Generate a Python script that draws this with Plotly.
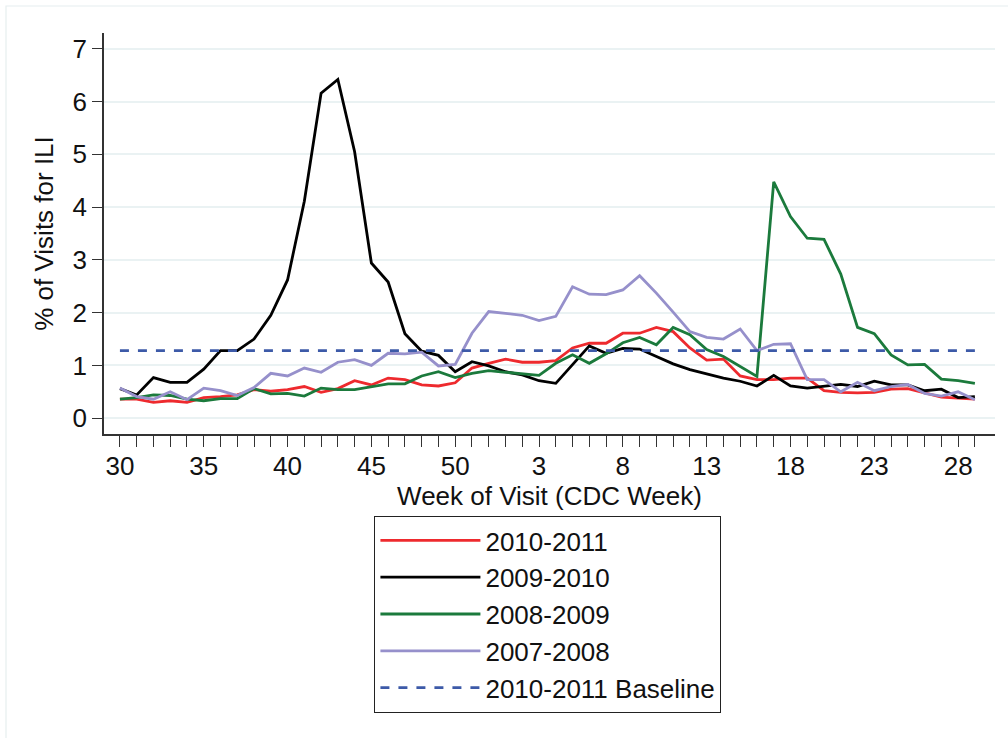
import plotly.graph_objects as go

weeks = list(range(30, 53)) + list(range(1, 30))  # CDC weeks 30..52, 1..29

s2010_2011 = [0.36, 0.36, 0.30, 0.33, 0.30, 0.39, 0.41, 0.44, 0.54, 0.51, 0.54, 0.60, 0.49, 0.56, 0.71, 0.63, 0.76, 0.73, 0.63,
              0.61, 0.67, 0.95, 1.04, 1.12, 1.06, 1.06, 1.09, 1.33, 1.42, 1.42, 1.61, 1.61, 1.72, 1.64, 1.33, 1.10,
              1.12, 0.80, 0.73, 0.73, 0.76, 0.76, 0.52, 0.49, 0.48, 0.49, 0.55, 0.56, 0.48, 0.40, 0.38, 0.36]
s2009_2010 = [0.56, 0.44, 0.77, 0.68, 0.68, 0.93, 1.28, 1.28, 1.50, 1.95, 2.62, 4.11, 6.16, 6.42, 5.05, 2.94, 2.58, 1.60, 1.27,
              1.19, 0.88, 1.07, 0.99, 0.88, 0.82, 0.71, 0.66, 1.01, 1.37, 1.23, 1.32, 1.31, 1.17, 1.03, 0.92, 0.84,
              0.76, 0.70, 0.61, 0.81, 0.61, 0.57, 0.61, 0.64, 0.60, 0.70, 0.63, 0.63, 0.52, 0.55, 0.39, 0.41]
s2008_2009 = [0.36, 0.39, 0.44, 0.43, 0.36, 0.33, 0.37, 0.37, 0.56, 0.46, 0.47, 0.42, 0.57, 0.54, 0.54, 0.59, 0.65, 0.65, 0.80,
              0.88, 0.77, 0.85, 0.90, 0.87, 0.84, 0.81, 1.04, 1.20, 1.04, 1.22, 1.43, 1.53, 1.39, 1.72, 1.58, 1.30,
              1.17, 0.98, 0.79, 4.48, 3.82, 3.41, 3.39, 2.73, 1.72, 1.60, 1.20, 1.01, 1.02, 0.74, 0.71, 0.66]
s2007_2008 = [0.57, 0.41, 0.36, 0.50, 0.35, 0.57, 0.52, 0.43, 0.58, 0.85, 0.80, 0.95, 0.87, 1.06, 1.11, 1.00, 1.23, 1.22, 1.25,
              0.99, 1.02, 1.61, 2.02, 1.99, 1.95, 1.85, 1.93, 2.49, 2.35, 2.34, 2.43, 2.70, 2.37, 2.01, 1.64, 1.53,
              1.50, 1.69, 1.28, 1.40, 1.41, 0.73, 0.73, 0.50, 0.68, 0.52, 0.60, 0.64, 0.47, 0.42, 0.50, 0.35]
baseline_2010_2011 = 1.28

y_ticks = [0, 1, 2, 3, 4, 5, 6, 7]

FONT = "Liberation Sans, Arial, sans-serif"
idx = list(range(len(weeks)))

series = [
    ("2010-2011", s2010_2011, "#ee2a2e"),
    ("2009-2010", s2009_2010, "#000000"),
    ("2008-2009", s2008_2009, "#1b7a3c"),
    ("2007-2008", s2007_2008, "#9690cb"),
]

fig = go.Figure()
for k, (name, vals, col) in enumerate(series):
    fig.add_trace(go.Scatter(x=idx, y=vals, mode="lines", name=name,
                             line=dict(color=col, width=2.8),
                             legendgroup=f"g{k}", legendrank=k + 1))
fig.add_trace(go.Scatter(x=idx, y=[baseline_2010_2011] * len(idx), mode="lines",
                         name="2010-2011 Baseline",
                         line=dict(color="#3d5aa8", width=2.6, dash="dash"),
                         legendgroup="g9", legendrank=5))

ticktext = [str(w) if i % 5 == 0 else "" for i, w in enumerate(weeks)]

fig.update_layout(
    width=1008, height=738,
    margin=dict(l=104, r=13, t=33, b=304),
    paper_bgcolor="white", plot_bgcolor="white",
    font=dict(family=FONT, size=26, color="#111111"),
    showlegend=True,
    legend=dict(
        x=0.498, xanchor="center", y=-0.204, yanchor="top",
        bgcolor="white", bordercolor="#222222", borderwidth=1.2,
        font=dict(size=26), traceorder="grouped", tracegroupgap=0,
        itemwidth=100,
    ),
    xaxis=dict(
        range=[-0.95, 52.2], tickmode="array", tickvals=idx, ticktext=ticktext,
        ticks="outside", ticklen=11, tickwidth=1.2, tickcolor="#333333",
        showline=True, linecolor="#333333", linewidth=1.5,
        showgrid=False, zeroline=False, tickangle=0,
        tickfont=dict(size=26), ticklabelstandoff=-3,
        title=dict(text="Week of Visit (CDC Week)", standoff=0, font=dict(size=26)),
    ),
    yaxis=dict(
        range=[-0.3, 7.3], tickmode="array", tickvals=y_ticks,
        ticks="outside", ticklen=10, tickwidth=1.2, tickcolor="#333333",
        showline=True, linecolor="#333333", linewidth=1.5,
        showgrid=True, gridcolor="#eaf2f3", gridwidth=2, zeroline=False,
        tickfont=dict(size=26),
        title=dict(text="% of Visits for ILI", standoff=11, font=dict(size=26)),
    ),
    shapes=[dict(type="rect", xref="paper", yref="paper",
                 x0=(6 - 104) / 891, x1=(1012 - 104) / 891,
                 y0=(434 - 742) / 401, y1=(434 - 6) / 401,
                 line=dict(color="#e6eeef", width=1.2), fillcolor="rgba(0,0,0,0)", layer="below")],
)

fig.write_html("out.html")
